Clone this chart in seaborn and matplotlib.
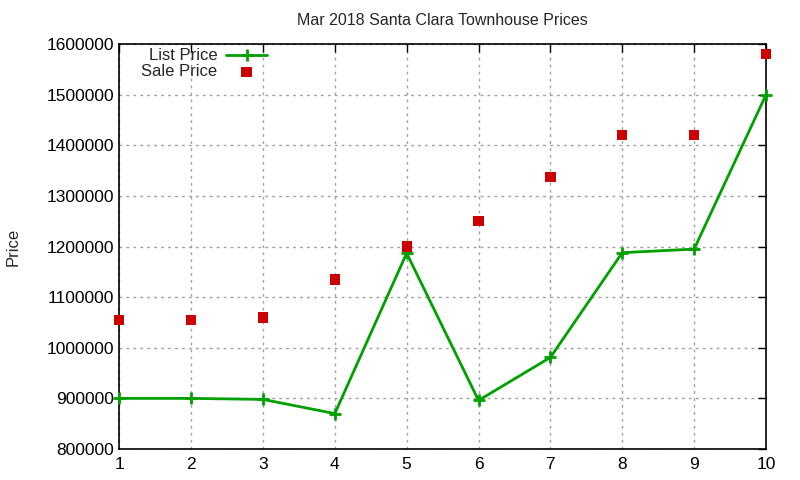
import pandas as pd
import matplotlib
matplotlib.use("Agg")
import matplotlib.pyplot as plt
import seaborn as sns

# Values
homes = [1, 2, 3, 4, 5, 6, 7, 8, 9, 10]
list_price = [900000, 900000, 898000, 870000, 1187000, 896000, 981000, 1188000, 1195000, 1500000]
sale_price = [1055000, 1055000, 1060000, 1135000, 1200000, 1250000, 1338000, 1420000, 1420000, 1580000]

def create_chart():
    data = pd.DataFrame({'Home': homes, 'List': list_price, 'Sale': sale_price})

    sns.set_style('white')
    plt.rcParams['font.family'] = ['Liberation Sans', 'DejaVu Sans']

    fig = plt.figure(figsize=(8, 4.8), dpi=100)
    ax = fig.add_axes([0.149, 0.0646, 0.8085, 0.8434])

    sns.lineplot(x='Home', y='List', data=data, ax=ax, color='#00a000', linewidth=2,
                 marker='+', markersize=9, markeredgewidth=2, markeredgecolor='#00a000',
                 label='List Price', clip_on=False, zorder=3)
    sns.scatterplot(x='Home', y='Sale', data=data, ax=ax, color='#cc0000', marker='s',
                    s=55, edgecolor='none', label='Sale Price', zorder=4, clip_on=False)

    ax.set_xlim(1, 10)
    ax.set_ylim(800000, 1600000)
    ax.set_xticks(homes)
    ax.set_yticks(range(800000, 1600001, 100000))
    ax.yaxis.set_major_formatter(matplotlib.ticker.FuncFormatter(lambda v, p: '%d' % v))
    ax.tick_params(direction='in', length=6, width=1, top=True, right=True,
                   labelsize=12.5, colors='black')
    ax.tick_params(axis='x', pad=6)
    ax.grid(True, color='#a0a0a0', linestyle=(0, (2, 3)), linewidth=1)
    for s in ax.spines.values():
        s.set_visible(True)
        s.set_color('black')
        s.set_linewidth(1.2)

    ax.set_title('Mar 2018 Santa Clara Townhouse Prices', fontsize=11.5, pad=14)
    ax.set_xlabel('')
    ax.set_ylabel('Price', fontsize=12, labelpad=19)

    ax.legend(loc='upper right', bbox_to_anchor=(0.242, 1.01), frameon=False, markerfirst=False,
              fontsize=12, handlelength=2.5, labelspacing=0.05, borderpad=0.2,
              handletextpad=0.5, borderaxespad=0.3)

    fig.savefig('out.png', dpi=100)

if __name__ == "__main__":
    create_chart()
